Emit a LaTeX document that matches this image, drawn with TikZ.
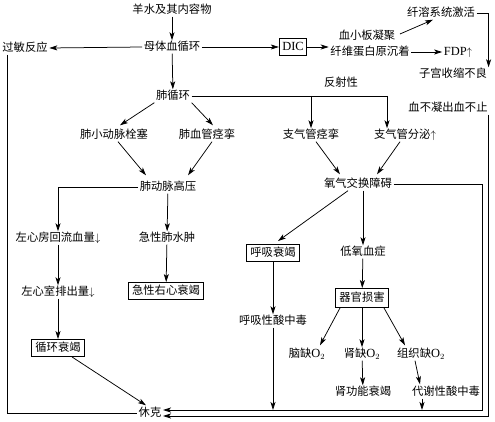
\documentclass[tikz,border=0pt]{standalone}
\usepackage{fontspec}
\setmainfont{Noto Sans CJK SC}
\newfontfamily\latf[Scale=1.1]{Liberation Serif}
\usetikzlibrary{arrows.meta,calc}
\begin{document}
\begin{tikzpicture}[x=1pt,y=-1pt,
  every node/.style={font=\fontsize{11.3}{13}\selectfont, inner sep=1.5pt, text height=8.5pt, text depth=1.5pt},
  bx/.style={draw, line width=0.9pt, inner xsep=3.5pt, inner ysep=3.5pt},
  arr/.style={-{Stealth[length=8pt,width=5pt,inset=2pt]}, line width=0.75pt},
  ln/.style={line width=0.75pt}]
\useasboundingbox (0,0) rectangle (495,422);

% nodes
\node (yang) at (172,10) {羊水及其内容物};
\node (mu)   at (172,47) {母体血循环};
\node (gm)   at (25,48)  {过敏反应};
\node[bx, inner xsep=3pt] (dic) at (293,47) {\latf DIC};
\node (xb)   at (367,36) {血小板凝聚};
\node (xw)   at (370,52) {纤维蛋白原沉着};
\node (xr)   at (441,13) {纤溶系统激活};
\node (zg)   at (453,74) {子宫收缩不良};
\node (fdp)  at (458,52) {\latf FDP$\uparrow$};
\node (fs)   at (341,83) {反射性};
\node (fx)   at (173,96) {肺循环};
\node (bxn)  at (448,108) {血不凝出血不止};
\node (fxd)  at (114,135) {肺小动脉栓塞};
\node (fxg)  at (207,135) {肺血管痉挛};
\node (zqj)  at (311,135) {支气管痉挛};
\node (zqf)  at (405,135) {支气管分泌$\uparrow$};
\node (fdm)  at (168,187) {肺动脉高压};
\node (yq)   at (358,184) {氧气交换障碍};
\node (zxf)  at (58,238) {左心房回流血量$\downarrow$};
\node (jx)   at (167,238) {急性肺水肿};
\node[bx] (hx) at (273,253) {呼吸衰竭};
\node (dy)   at (363,252) {低氧血症};
\node (zxs)  at (58,292) {左心室排出量$\downarrow$};
\node[bx] (jyx) at (166,291) {急性右心衰竭};
\node[bx, inner ysep=4.5pt] (qg) at (362,298) {器官损害};
\node (hxs)  at (273,321) {呼吸性酸中毒};
\node[bx] (xh) at (58,348) {循环衰竭};
\node (nq)   at (307,354) {脑缺{\latf O}$_2$};
\node (sq)   at (362,354) {肾缺{\latf O}$_2$};
\node (zz)   at (421,354) {组织缺{\latf O}$_2$};
\node (sg)   at (363,392) {肾功能衰竭};
\node (dx)   at (446,392) {代谢性酸中毒};
\node (xk)   at (150,413) {休克};

\coordinate (c1) at (387,96);
\coordinate (r1) at (482,410);
\coordinate (r2) at (488,416);

% connectors
\draw[arr] (yang) -- (mu);
\draw[arr] (mu.west) -- (gm.east);
\draw[arr] (mu.east) -- (dic.west);
\draw[arr] (dic.east) -- (xw.west |- dic.east);
\draw[arr] ($(xb.east)+(3,-2)$) -- ($(xr.south)+(-8,0)$);
\draw[arr] (xw.east) -- (fdp.west);
\draw[arr] (xr.east) -| (zg.north east);

\draw[arr] (mu) -- (fx);
\draw[ln] (fx.east) -- (c1);
\draw[arr] (zqj.north |- fx.east) -- (zqj.north);
\draw[arr] (c1) -- (c1 |- zqf.north);
\draw[arr] (fx.south west) -- ($(fxd.north)+(6,-3)$);
\draw[arr] (fx.south east) -- ($(fxg.north)+(6,-3)$);
\draw[arr] ($(fxd.south)+(4,0)$) -- ($(fdm.north)+(-22,-5)$);
\draw[arr] ($(fxg.south)+(5,0)$) -- ($(fdm.north)+(20,-5)$);
\draw[arr] (fdm.west) -| (zxf.north);
\draw[arr] (fdm) -- (jx);
\draw[arr] (zxf) -- (zxs);
\draw[arr] (zxs) -- (xh);
\draw[arr] (jx) -- (jyx);
\draw[arr] ($(xh.south)+(14,0)$) -- ($(xk.north)+(-4,-1)$);
\draw[ln] ($(gm.south west)+(7,0)$) |- (xk.west);

\draw[arr] ($(zqj.south)+(5,0)$) -- ($(yq.north)+(-18,-3)$);
\draw[arr] ($(zqf.south)+(-5,0)$) -- ($(yq.north)+(19,-3)$);
\draw[arr] (yq.east) -| (r1) -- (r1 -| xk.east);
\draw[arr] (r2 |- bxn.south) -- (r2) -- (r2 -| xk.east);
\draw[arr] ($(yq.south)+(-10,0)$) -- ($(hx.north)+(5,-3)$);
\draw[arr] (dy.north |- yq.south) -- (dy.north);
\draw[arr] (dy) -- (qg);
\draw[arr] (hx) -- (hxs);
\draw[arr] ($(qg.south)+(-22,0)$) -- ($(nq.north)+(13,-2)$);
\draw[arr] (qg) -- (sq);
\draw[arr] ($(qg.south)+(22,0)$) -- ($(zz.north)+(-16,-2)$);
\draw[arr] (sq) -- (sg);
\draw[arr] ($(zz.south)+(-6,0)$) -- ($(dx.north)+(-26,-1)$);
\coordinate (d1) at ($(dx.south)+(-24,0)$);
\draw[arr] (d1) -- (d1 |- r1);
\draw[arr] (hxs.south) -- (hxs.south |- r1);
\end{tikzpicture}
\end{document}
